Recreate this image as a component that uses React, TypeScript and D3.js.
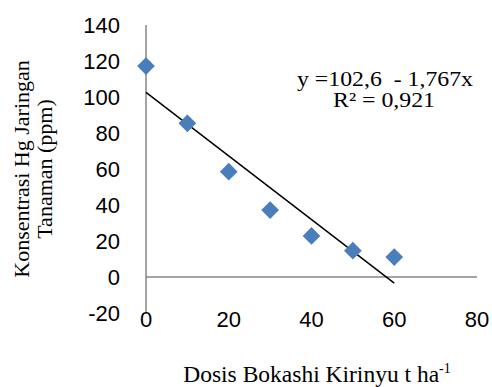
import React from "react";
import * as d3 from "d3";

// dosis bokashi (t/ha) vs Hg content (ppm)
const dosis = [0, 10, 20, 30, 40, 50, 60];
const hgValues = [117.2, 85.4, 58.5, 37.2, 22.8, 14.6, 11.1];
const xTicks = [0, 20, 40, 60, 80];
const yTicks = [-20, 0, 20, 40, 60, 80, 100, 120, 140];
const intercept = 102.6;
const slope = -1.767;
const trendRange = [0, 60];

const W = 492, H = 387;

export default function App() {
  const x = d3.scaleLinear().domain([0, 80]).range([146, 477]);
  const y = d3.scaleLinear().domain([-20, 140]).range([313, 25]);

  const trend = d3.line<number>()
    .x(d => x(d))
    .y(d => y(intercept + slope * d));

  const diamond = d3.symbol().type(d3.symbolDiamond2).size(200)();

  const sans = "'Liberation Sans', Arial, sans-serif";
  const serif = "'Liberation Serif', 'Times New Roman', serif";

  return (
    <svg width={W} height={H} style={{ position: "absolute", left: 0, top: 0, background: "#fff" }}>
      {/* axes */}
      <line x1={x(0)} x2={x(0)} y1={y(140)} y2={y(-20)} stroke="#868686" strokeWidth={1.5} />
      <line x1={x(0)} x2={x(80)} y1={y(0)} y2={y(0)} stroke="#868686" strokeWidth={1.5} />

      {yTicks.map(t => (
        <text key={"y" + t} x={120} y={y(t)} dy="0.35em" textAnchor="end"
          fontFamily={sans} fontSize={22} fill="#000">{t}</text>
      ))}
      {xTicks.map(t => (
        <text key={"x" + t} x={x(t)} y={327} textAnchor="middle"
          fontFamily={sans} fontSize={22} fill="#000">{t}</text>
      ))}

      {/* trendline */}
      <path d={trend(trendRange) || ""} fill="none" stroke="#000" strokeWidth={1.5} />

      {/* points */}
      {dosis.map((d, i) => (
        <path key={i} d={diamond || ""} transform={`translate(${x(d)},${y(hgValues[i])})`}
          fill="#4a7ebb" />
      ))}

      {/* equation */}
      <text x={297} y={86} fontFamily={serif} fontSize={21} xmlSpace="preserve"
        textLength={176} lengthAdjust="spacingAndGlyphs">
        {"y =102,6  - 1,767x"}
      </text>
      <text x={333} y={107} fontFamily={serif} fontSize={21}
        textLength={102} lengthAdjust="spacingAndGlyphs">
        {"R² = 0,921"}
      </text>

      {/* axis titles */}
      <g transform="translate(29,169) rotate(-90)">
        <text x={0} y={0} textAnchor="middle" fontFamily={serif} fontSize={22}>Konsentrasi Hg Jaringan</text>
        <text x={0} y={23} textAnchor="middle" fontFamily={serif} fontSize={22}>Tanaman (ppm)</text>
      </g>
      <text x={317} y={382} textAnchor="middle" fontFamily={serif} fontSize={23.5}>
        Dosis Bokashi Kirinyu t ha<tspan dy={-9} fontSize={14}>-1</tspan>
      </text>
    </svg>
  );
}
